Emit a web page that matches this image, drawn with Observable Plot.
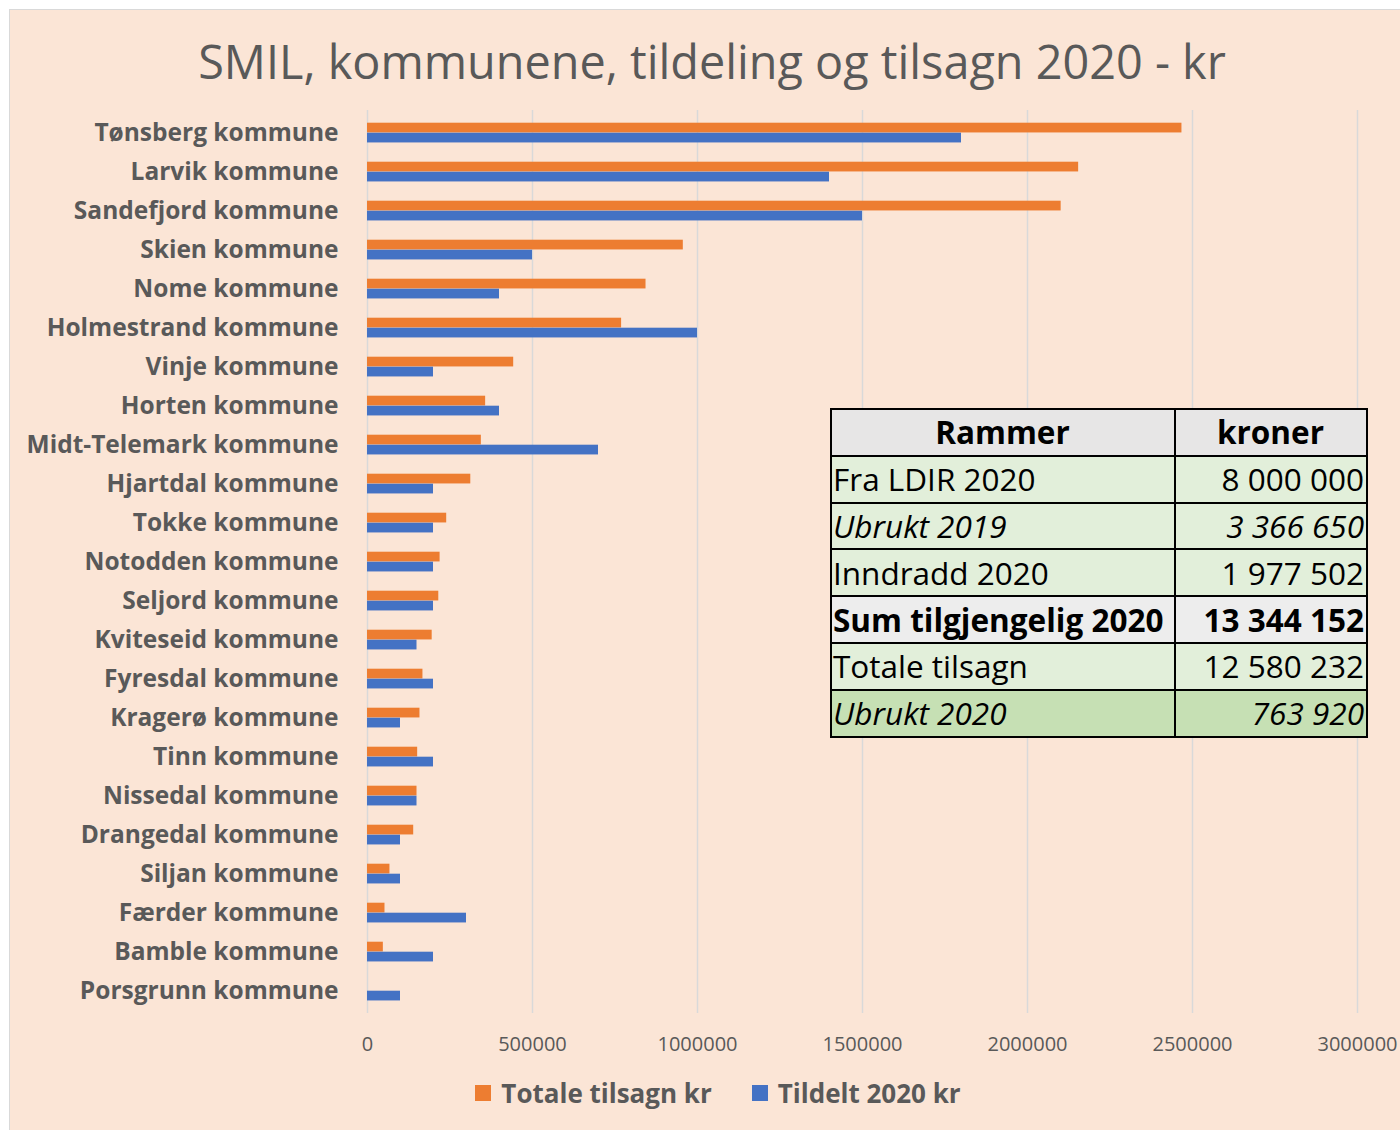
<!DOCTYPE html>
<html>
<head>
<meta charset="utf-8">
<script src="https://cdn.jsdelivr.net/npm/d3@7"></script>
<script src="https://cdn.jsdelivr.net/npm/@observablehq/plot@0.6"></script>
<style>
  html, body { margin: 0; padding: 0; background: #ffffff; }
  #wrap { position: relative; width: 1400px; height: 1130px; overflow: hidden; background: #ffffff; font-family: "Open Sans", sans-serif; }
  #bg { position: absolute; left: 9px; top: 9px; right: 0; bottom: 0; background: #FBE5D6; border-left: 1px solid #d9d9d9; border-top: 1px solid #d9d9d9; }
  #title { position: absolute; left: 0; width: 1424px; top: 31px; text-align: center; font-size: 46.8px; color: #595959; line-height: 60px; white-space: nowrap; }
  #chart { position: absolute; left: 0; top: 90px; }
  #legend { position: absolute; top: 1074px; left: 0; width: 1436px; display: flex; justify-content: center; gap: 40px; font-weight: 700; font-size: 26px; color: #595959; line-height: 38px; }
  #legend .item { display: flex; align-items: center; gap: 10px; }
  #legend .sw { width: 16px; height: 16px; display: inline-block; }
  #tbl { position: absolute; left: 830px; top: 408px; border-collapse: collapse; color: #000; }
  #tbl td, #tbl th { border: 2.5px solid #000; height: 46.8px; padding: 0 2px 0 1px; font-size: 31.5px; line-height: 44px; white-space: nowrap; box-sizing: border-box; }
  #tbl th { background: #E7E6E6; font-weight: 700; text-align: center; }
  #tbl td.v { text-align: right; }
</style>
</head>
<body>
<div id="wrap">
  <div id="bg"></div>
  <div id="title"></div>
  <div id="chart"></div>
  <div id="legend"></div>
  <table id="tbl"></table>
</div>
<script>
const titleText = "SMIL, kommunene, tildeling og tilsagn 2020 - kr";
const categories = [
  "Tønsberg kommune", "Larvik kommune", "Sandefjord kommune", "Skien kommune",
  "Nome kommune", "Holmestrand kommune", "Vinje kommune", "Horten kommune",
  "Midt-Telemark kommune", "Hjartdal kommune", "Tokke kommune", "Notodden kommune",
  "Seljord kommune", "Kviteseid kommune", "Fyresdal kommune", "Kragerø kommune",
  "Tinn kommune", "Nissedal kommune", "Drangedal kommune", "Siljan kommune",
  "Færder kommune", "Bamble kommune", "Porsgrunn kommune"
];
const totaleTilsagn = [
  2468000, 2155000, 2102000, 957000, 844000, 770000, 443000, 358000,
  345000, 313000, 240000, 220000, 216000, 196000, 168000, 159000,
  152000, 150000, 140000, 68000, 53000, 48000, 0
];
const tildelt2020 = [
  1800000, 1400000, 1500000, 500000, 400000, 1000000, 200000, 400000,
  700000, 200000, 200000, 200000, 200000, 150000, 200000, 100000,
  200000, 150000, 100000, 100000, 300000, 200000, 100000
];
const seriesNames = ["Totale tilsagn kr", "Tildelt 2020 kr"];
const seriesColors = ["#ED7D31", "#4472C4"];
const xTicks = [0, 500000, 1000000, 1500000, 2000000, 2500000, 3000000];

const tableHeader = ["Rammer", "kroner"];
const tableLabels = ["Fra LDIR 2020", "Ubrukt 2019", "Inndradd 2020", "Sum tilgjengelig 2020", "Totale tilsagn", "Ubrukt 2020"];
const tableValues = ["8 000 000", "3 366 650", "1 977 502", "13 344 152", "12 580 232", "763 920"];

// --- title
document.getElementById("title").textContent = titleText;

// --- chart
const orange = categories.map((c, i) => ({cat: c, value: totaleTilsagn[i]}));
const blue = categories.map((c, i) => ({cat: c, value: tildelt2020[i]}));

const chart = Plot.plot({
  width: 1400,
  height: 990,
  marginLeft: 367,
  marginRight: 43,
  marginTop: 20,
  marginBottom: 67,
  style: {background: "transparent", fontFamily: "'Open Sans', sans-serif", color: "#595959", overflow: "visible"},
  x: {domain: [0, 3000000], ticks: xTicks, tickFormat: d3.format("d"), label: null},
  y: {domain: categories, padding: 0, label: null},
  marks: [
    Plot.gridX(xTicks, {stroke: "#d9d9d9", strokeOpacity: 1, strokeWidth: 1.5}),
    Plot.barX(orange, {y: "cat", x: "value", fill: seriesColors[0], insetTop: 9.7, insetBottom: 19.56}),
    Plot.barX(blue, {y: "cat", x: "value", fill: seriesColors[1], insetTop: 19.7, insetBottom: 9.56}),
    Plot.axisX(xTicks, {tickSize: 0, tickPadding: 23, fontSize: 20, fill: "#595959", tickFormat: d3.format("d"), label: null}),
    Plot.axisY({tickSize: 0, tickPadding: 29, fontSize: 24.5, fontWeight: 700, fill: "#595959", label: null})
  ]
});
document.getElementById("chart").appendChild(chart);

// --- legend
const legend = document.getElementById("legend");
seriesNames.forEach((name, i) => {
  const item = document.createElement("div");
  item.className = "item";
  const sw = document.createElement("span");
  sw.className = "sw";
  sw.style.background = seriesColors[i];
  const t = document.createElement("span");
  t.textContent = name;
  item.appendChild(sw);
  item.appendChild(t);
  legend.appendChild(item);
});

// --- table
const italicRows = new Set([1, 5]);
const boldRows = new Set([3]);
const rowBg = ["#E2EFDA", "#E2EFDA", "#E2EFDA", "#EDEDED", "#E2EFDA", "#C6E0B4"];
const tbl = document.getElementById("tbl");
const hr = document.createElement("tr");
tableHeader.forEach((h, j) => {
  const th = document.createElement("th");
  th.textContent = h;
  th.style.width = j === 0 ? "344px" : "192px";
  hr.appendChild(th);
});
tbl.appendChild(hr);
tableLabels.forEach((lab, i) => {
  const tr = document.createElement("tr");
  const a = document.createElement("td");
  a.textContent = lab;
  const b = document.createElement("td");
  b.textContent = tableValues[i];
  b.className = "v";
  [a, b].forEach(td => {
    td.style.background = rowBg[i];
    if (italicRows.has(i)) td.style.fontStyle = "italic";
    if (boldRows.has(i)) td.style.fontWeight = "700";
  });
  tr.appendChild(a);
  tr.appendChild(b);
  tbl.appendChild(tr);
});
</script>
</body>
</html>
